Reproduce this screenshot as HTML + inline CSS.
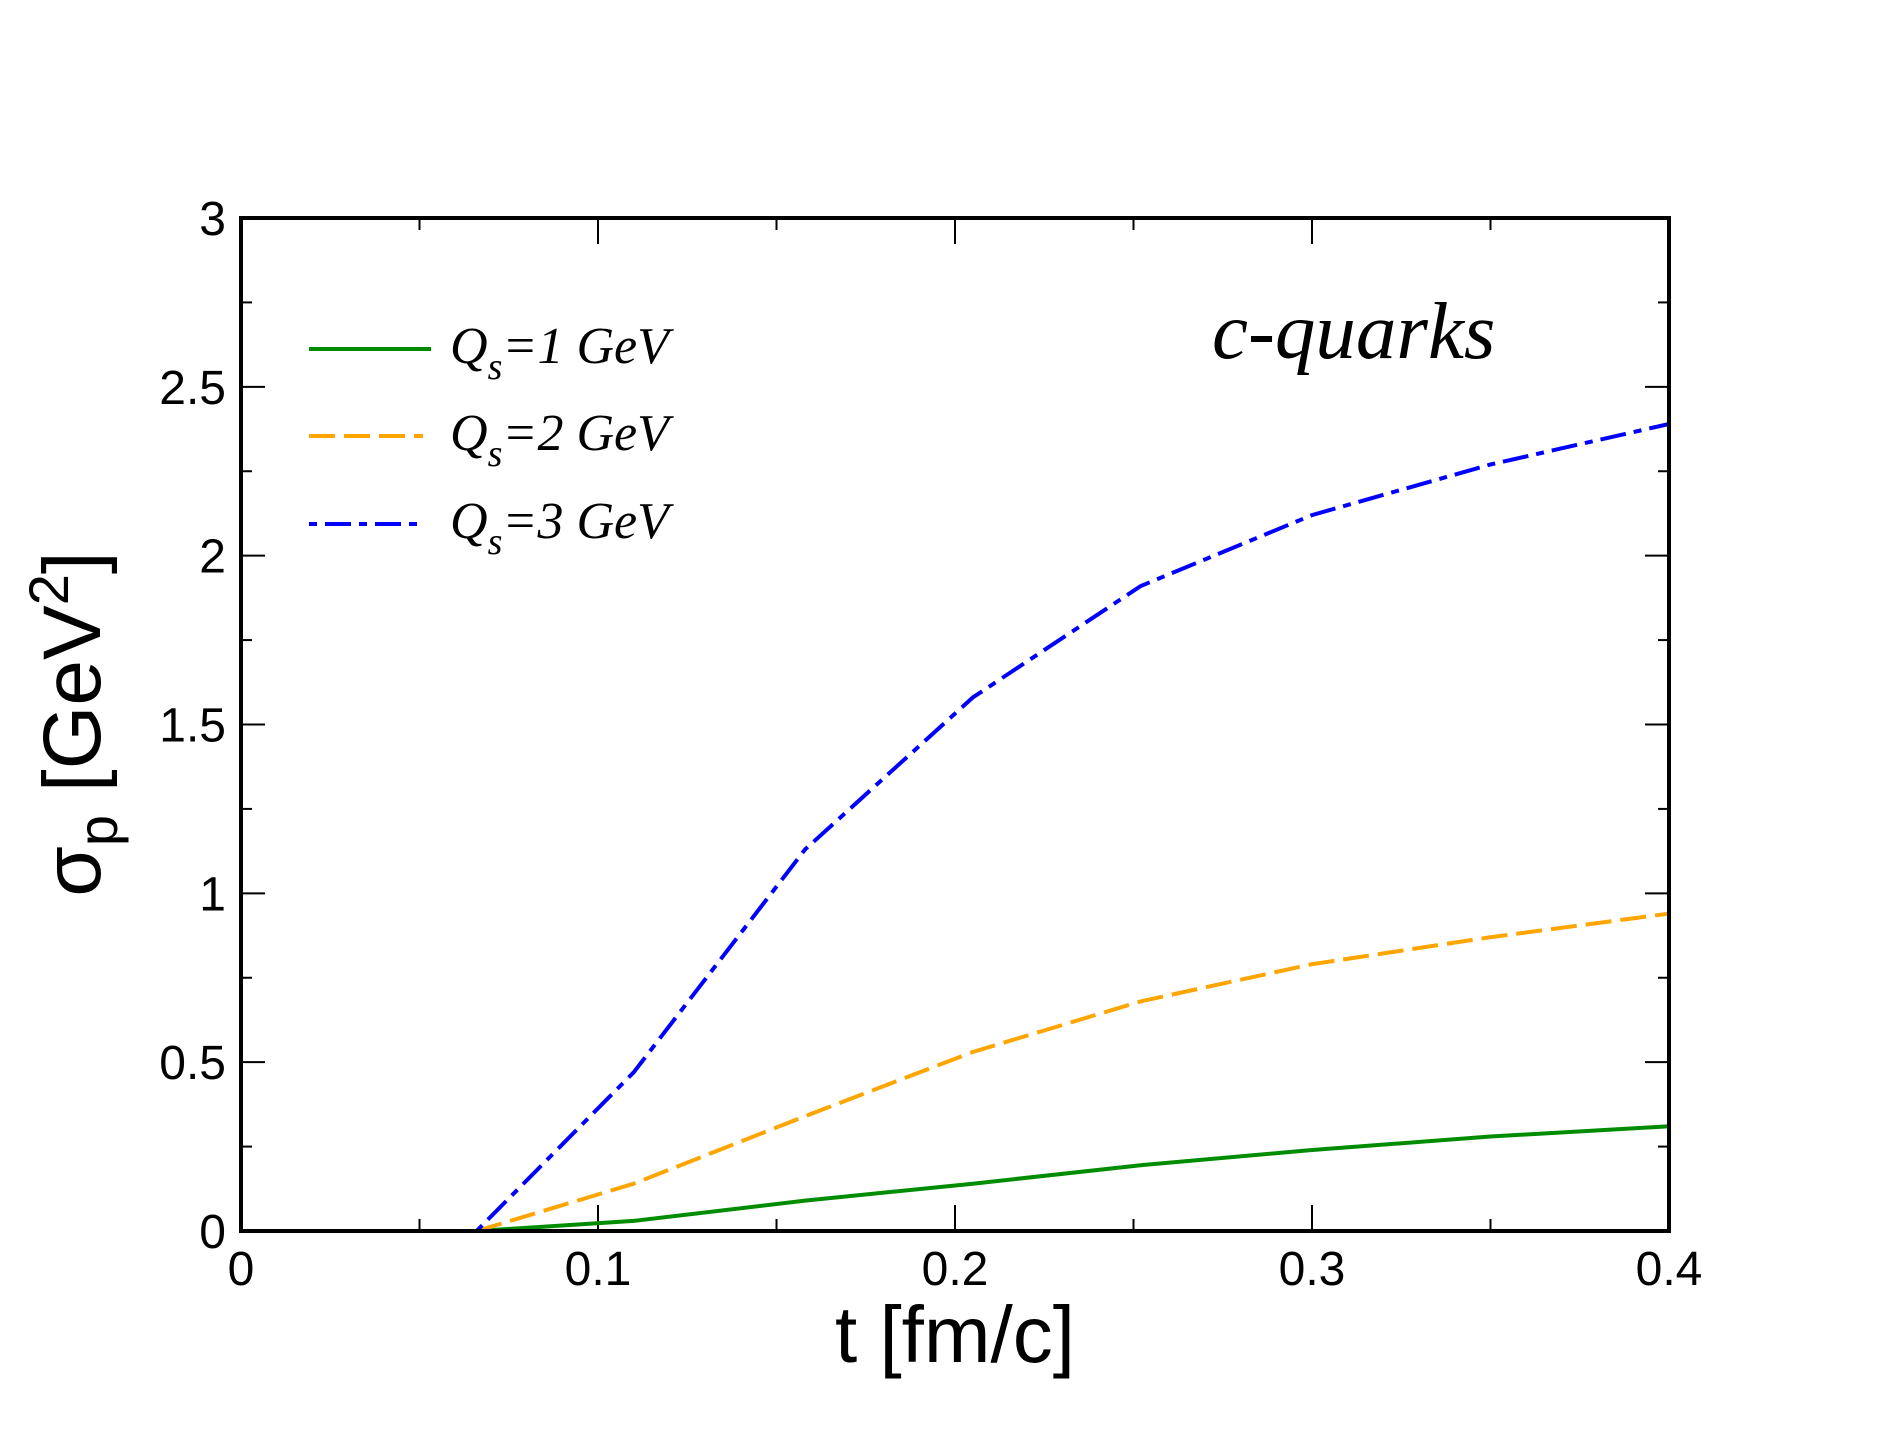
<!DOCTYPE html>
<html><head><meta charset="utf-8"><style>
html,body{margin:0;padding:0;background:#fff;}
svg{display:block;}
</style></head><body>
<svg id="chart" width="1878" height="1451" xmlns="http://www.w3.org/2000/svg">
<rect width="1878" height="1451" fill="#fff"/>
<g id="ticks"></g>
<g id="series"></g>
<rect x="241" y="218" width="1428" height="1013" fill="none" stroke="#000" stroke-width="4"/>
<g id="labels" font-family="Liberation Sans, sans-serif" font-size="48" fill="#000"></g>
<text x="955" y="1362" font-family="Liberation Sans, sans-serif" font-size="80" text-anchor="middle">t [fm/c]</text>
<text transform="translate(100,724) rotate(-90)" font-family="Liberation Sans, sans-serif" font-size="82" text-anchor="middle">σ<tspan font-size="56" dy="17">p</tspan><tspan dy="-17"> [GeV</tspan><tspan font-size="56" dy="-32">2</tspan><tspan dy="32">]</tspan></text>
<text x="1212" y="358" font-family="Liberation Serif, serif" font-style="italic" font-size="81">c-quarks</text>
<g id="legend"></g>
</svg>
<script>
const tValues = [0.066, 0.11, 0.158, 0.205, 0.252, 0.3, 0.35, 0.4];
const qs1 = [0, 0.03, 0.09, 0.14, 0.195, 0.24, 0.28, 0.31];
const qs2 = [0, 0.14, 0.34, 0.53, 0.68, 0.79, 0.87, 0.94];
const qs3 = [0, 0.47, 1.13, 1.58, 1.91, 2.12, 2.27, 2.39];
const xTickLabels = ["0", "0.1", "0.2", "0.3", "0.4"];
const yTickLabels = ["0", "0.5", "1", "1.5", "2", "2.5", "3"];
const seriesNames = ["Q_s=1 GeV", "Q_s=2 GeV", "Q_s=3 GeV"];

const NS = "http://www.w3.org/2000/svg";
const X0 = 241, X1 = 1669, Y0 = 1231, Y1 = 218;
const xs = v => X0 + (v - 0) / 0.4 * (X1 - X0);
const ys = v => Y0 - (v - 0) / 3 * (Y0 - Y1);
function mk(tag, attrs, parent){const e=document.createElementNS(NS,tag);for(const k in attrs)e.setAttribute(k,attrs[k]);parent.appendChild(e);return e;}

const ticks = document.getElementById('ticks');
for (let i = 0; i <= 8; i++) {
  const v = i * 0.05, major = i % 2 === 0, len = major ? 26 : 12, x = xs(v);
  let t = mk('line', {x1:x, x2:x, y1:Y0, y2:Y0-len, stroke:'#000','stroke-width':2}, ticks);
  
  
  t = mk('line', {x1:x, x2:x, y1:Y1, y2:Y1+len, stroke:'#000','stroke-width':2}, ticks);
  
  
}
for (let i = 0; i <= 12; i++) {
  const v = i * 0.25, major = i % 2 === 0, len = major ? 24 : 11, y = ys(v);
  let t = mk('line', {x1:X0, x2:X0+len, y1:y, y2:y, stroke:'#000','stroke-width':2}, ticks);
  
  
  t = mk('line', {x1:X1, x2:X1-len, y1:y, y2:y, stroke:'#000','stroke-width':2}, ticks);
  
  
}
const labels = document.getElementById('labels');
xTickLabels.forEach((s, i) => {
  const t = mk('text', {x: xs(i*0.1), y: 1285, 'text-anchor':'middle'}, labels);
  t.textContent = s;
  
  
});
yTickLabels.forEach((s, i) => {
  const t = mk('text', {x: 226, y: ys(i*0.5) + 17, 'text-anchor':'end'}, labels);
  t.textContent = s;
  
  
});

const styles = [
  {color:'#008c00', dash:'none'},
  {color:'#ffa500', dash:'26 9'},
  {color:'#0000ff', dash:'8 8 26 8'}
];
const series = document.getElementById('series');
[qs1, qs2, qs3].forEach((arr, k) => {
  const d = arr.map((v, i) => (i ? 'L' : 'M') + xs(tValues[i]).toFixed(1) + ',' + ys(v).toFixed(1)).join(' ');
  const p = mk('path', {d, fill:'none', stroke:styles[k].color, 'stroke-width':4, 'stroke-dasharray':styles[k].dash}, series);
  
  
});

const legend = document.getElementById('legend');
const legY = [349, 436, 524];
seriesNames.forEach((name, k) => {
  const g = mk('g', {}, legend);
  
  
  mk('line', {x1:309, x2: k===0 ? 431 : 423, y1:legY[k], y2:legY[k], stroke:styles[k].color, 'stroke-width':4, 'stroke-dasharray':styles[k].dash}, g);
  const t = mk('text', {x:450, y:legY[k]+14, 'font-family':'Liberation Serif, serif', 'font-style':'italic', 'font-size':52}, g);
  const parts = name.split('_s');
  t.innerHTML = parts[0] + '<tspan font-size="38" dy="16">s</tspan><tspan dy="-16">' + parts[1] + '</tspan>';
});
</script>
</body></html>
